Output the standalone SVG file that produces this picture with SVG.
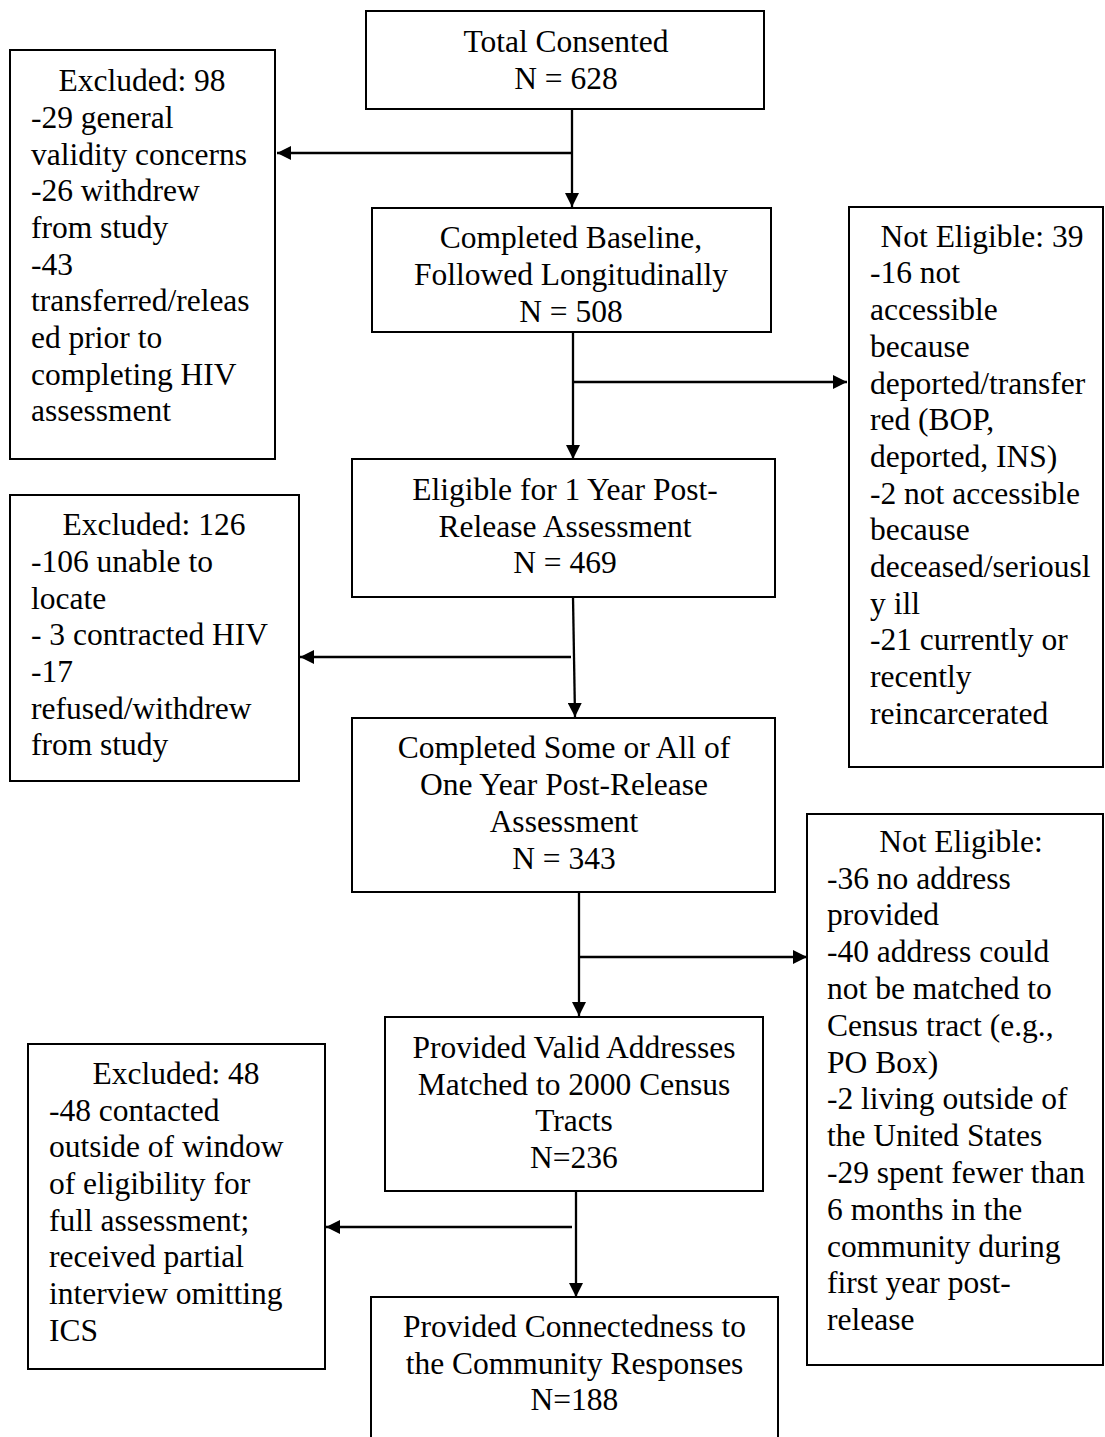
<svg xmlns="http://www.w3.org/2000/svg" width="1105" height="1437" viewBox="0 0 1105 1437">
<style>
.box{fill:#fff;stroke:#000;stroke-width:2}
.t{font-family:"Liberation Serif","Times New Roman",serif;font-size:31.5px;fill:#000}
.c{text-anchor:middle}
.conn{stroke:#000;stroke-width:2.3;fill:none}
</style>
<defs>
<marker id="ah" markerUnits="userSpaceOnUse" markerWidth="15" markerHeight="14" refX="14" refY="7" orient="auto">
<path d="M0,0 L14,7 L0,14 z" fill="#000"/>
</marker>
</defs>
<rect width="1105" height="1437" fill="#fff"/>

<g id="connectors">
<line class="conn" x1="572" y1="109" x2="572" y2="207" marker-end="url(#ah)"/>
<line class="conn" x1="572" y1="153" x2="277" y2="153" marker-end="url(#ah)"/>
<line class="conn" x1="573" y1="332" x2="573" y2="459" marker-end="url(#ah)"/>
<line class="conn" x1="573" y1="382" x2="847" y2="382" marker-end="url(#ah)"/>
<line class="conn" x1="573" y1="597" x2="575" y2="717" marker-end="url(#ah)"/>
<line class="conn" x1="571" y1="657" x2="300" y2="657" marker-end="url(#ah)"/>
<line class="conn" x1="579" y1="892" x2="579" y2="1016" marker-end="url(#ah)"/>
<line class="conn" x1="579" y1="957" x2="807" y2="957" marker-end="url(#ah)"/>
<line class="conn" x1="576" y1="1191" x2="576" y2="1297" marker-end="url(#ah)"/>
<line class="conn" x1="572" y1="1227" x2="326" y2="1227" marker-end="url(#ah)"/>
</g>

<g id="total">
<rect class="box" x="366" y="11" width="398" height="98"/>
<text class="t c" x="566" y="52">Total Consented</text>
<text class="t c" x="566" y="89">N = 628</text>
</g>

<g id="excluded98">
<rect class="box" x="10" y="50" width="265" height="409"/>
<text class="t c" x="142" y="91">Excluded: 98</text>
<text class="t" x="31" y="128">-29 general</text>
<text class="t" x="31" y="164.5">validity concerns</text>
<text class="t" x="31" y="201">-26 withdrew</text>
<text class="t" x="31" y="238">from study</text>
<text class="t" x="31" y="274.5">-43</text>
<text class="t" x="31" y="311">transferred/releas</text>
<text class="t" x="31" y="348">ed prior to</text>
<text class="t" x="31" y="384.5">completing HIV</text>
<text class="t" x="31" y="421">assessment</text>
</g>

<g id="baseline">
<rect class="box" x="372" y="208" width="399" height="124"/>
<text class="t c" x="571" y="248">Completed Baseline,</text>
<text class="t c" x="571" y="285">Followed Longitudinally</text>
<text class="t c" x="571" y="322">N = 508</text>
</g>

<g id="noteligible39">
<rect class="box" x="849" y="207" width="254" height="560"/>
<text class="t c" x="982" y="246.5">Not Eligible: 39</text>
<text class="t" x="870" y="283">-16 not</text>
<text class="t" x="870" y="320">accessible</text>
<text class="t" x="870" y="357">because</text>
<text class="t" x="870" y="393.5">deported/transfer</text>
<text class="t" x="870" y="430">red (BOP,</text>
<text class="t" x="870" y="467">deported, INS)</text>
<text class="t" x="870" y="503.5">-2 not accessible</text>
<text class="t" x="870" y="540">because</text>
<text class="t" x="870" y="577">deceased/seriousl</text>
<text class="t" x="870" y="613.5">y ill</text>
<text class="t" x="870" y="650">-21 currently or</text>
<text class="t" x="870" y="687">recently</text>
<text class="t" x="870" y="724">reincarcerated</text>
</g>

<g id="eligible">
<rect class="box" x="352" y="459" width="423" height="138"/>
<text class="t c" x="565" y="500">Eligible for 1 Year Post-</text>
<text class="t c" x="565" y="536.5">Release Assessment</text>
<text class="t c" x="565" y="573">N = 469</text>
</g>

<g id="excluded126">
<rect class="box" x="10" y="495" width="289" height="286"/>
<text class="t c" x="154" y="535">Excluded: 126</text>
<text class="t" x="31" y="572">-106 unable to</text>
<text class="t" x="31" y="608.5">locate</text>
<text class="t" x="31" y="645">- 3 contracted HIV</text>
<text class="t" x="31" y="682">-17</text>
<text class="t" x="31" y="718.5">refused/withdrew</text>
<text class="t" x="31" y="755">from study</text>
</g>

<g id="completedsome">
<rect class="box" x="352" y="718" width="423" height="174"/>
<text class="t c" x="564" y="758">Completed Some or All of</text>
<text class="t c" x="564" y="795">One Year Post-Release</text>
<text class="t c" x="564" y="832">Assessment</text>
<text class="t c" x="564" y="869">N = 343</text>
</g>

<g id="noteligible2">
<rect class="box" x="807" y="814" width="296" height="551"/>
<text class="t c" x="961" y="852">Not Eligible:</text>
<text class="t" x="827" y="888.5">-36 no address</text>
<text class="t" x="827" y="925">provided</text>
<text class="t" x="827" y="962">-40 address could</text>
<text class="t" x="827" y="999">not be matched to</text>
<text class="t" x="827" y="1035.5">Census tract (e.g.,</text>
<text class="t" x="827" y="1072.5">PO Box)</text>
<text class="t" x="827" y="1109">-2 living outside of</text>
<text class="t" x="827" y="1146">the United States</text>
<text class="t" x="827" y="1183">-29 spent fewer than</text>
<text class="t" x="827" y="1219.5">6 months in the</text>
<text class="t" x="827" y="1256.5">community during</text>
<text class="t" x="827" y="1293">first year post-</text>
<text class="t" x="827" y="1330">release</text>
</g>

<g id="validaddresses">
<rect class="box" x="385" y="1017" width="378" height="174"/>
<text class="t c" x="574" y="1058">Provided Valid Addresses</text>
<text class="t c" x="574" y="1094.5">Matched to 2000 Census</text>
<text class="t c" x="574" y="1131">Tracts</text>
<text class="t c" x="574" y="1168">N=236</text>
</g>

<g id="excluded48">
<rect class="box" x="28" y="1044" width="297" height="325"/>
<text class="t c" x="176" y="1084">Excluded: 48</text>
<text class="t" x="49" y="1120.5">-48 contacted</text>
<text class="t" x="49" y="1157">outside of window</text>
<text class="t" x="49" y="1194">of eligibility for</text>
<text class="t" x="49" y="1230.5">full assessment;</text>
<text class="t" x="49" y="1267">received partial</text>
<text class="t" x="49" y="1304">interview omitting</text>
<text class="t" x="49" y="1340.5">ICS</text>
</g>

<g id="connectedness">
<rect class="box" x="371" y="1297" width="407" height="200"/>
<text class="t c" x="574.5" y="1337">Provided Connectedness to</text>
<text class="t c" x="574.5" y="1373.5">the Community Responses</text>
<text class="t c" x="574.5" y="1410">N=188</text>
</g>
</svg>
